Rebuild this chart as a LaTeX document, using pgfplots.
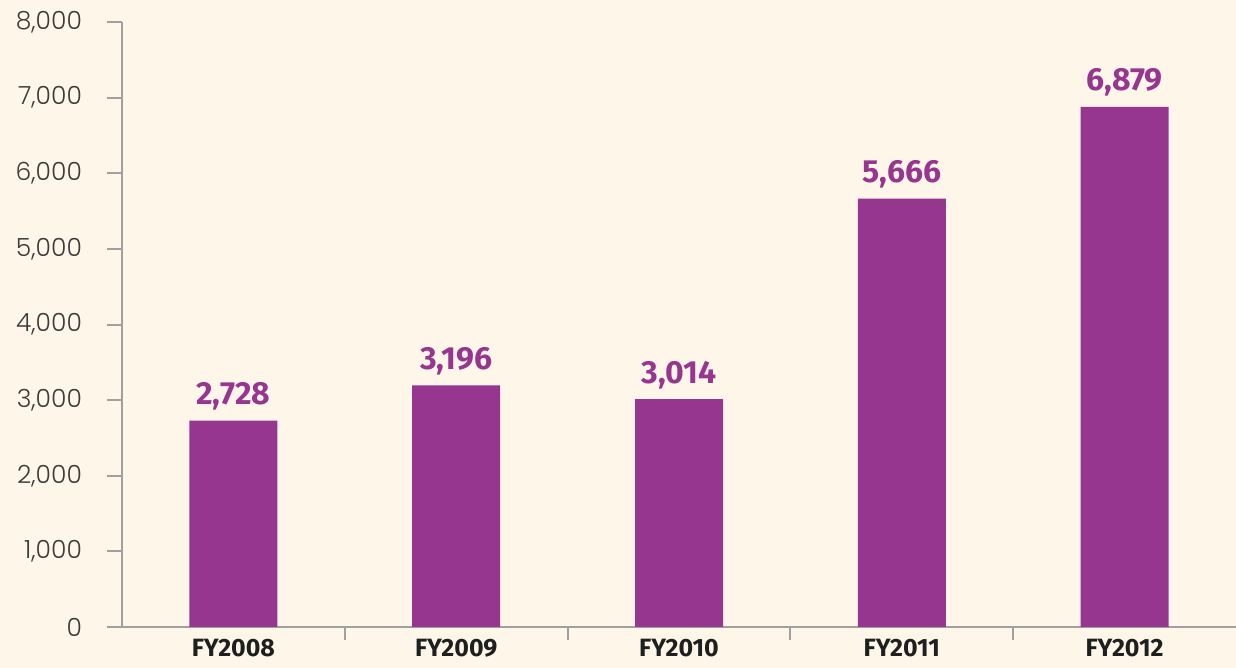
\documentclass[border=0pt]{standalone}
\usepackage{pgfplots}
\pgfplotsset{compat=1.18}
\usepackage{fontspec}
\setmainfont{Fira Sans}
\newfontfamily\tickfont{Poppins Light}
\definecolor{bg}{HTML}{FEF7E9}
\definecolor{barc}{HTML}{97368F}
\definecolor{axc}{HTML}{A0A0A0}
\definecolor{tk}{HTML}{3C3C3C}
\begin{document}
\begin{tikzpicture}
\fill[bg] (-61pt,-20.5pt) rectangle (557pt,313.5pt);
\useasboundingbox (-61pt,-20.5pt) rectangle (557pt,313.5pt);
\begin{axis}[
  at={(0,0)}, anchor=south west,
  scale only axis, width=557pt, height=302.5pt,
  xmin=-0.5, xmax=4.5, ymin=0, ymax=8000,
  axis lines*=left,
  axis line style={draw=axc, line width=1pt},
  tick align=outside,
  ytick={0,1000,...,8000},
  scaled y ticks=false,
  yticklabel style={font=\tickfont\fontsize{12.5}{13}\selectfont, text=tk, xshift=-9pt, /pgf/number format/1000 sep={,}, /pgf/number format/assume math mode=true},
  ytick style={draw=axc, line width=1pt},
  major tick length=7.5pt,
  xtick={0,1,2,3,4},
  xticklabels={FY2008,FY2009,FY2010,FY2011,FY2012},
  xtick style={draw=none},
  xticklabel style={font=\bfseries\fontsize{12.5}{13}\selectfont, text=black!88, anchor=north, inner sep=0pt, yshift=1.5pt},
  extra x ticks={0.5,1.5,2.5,3.5},
  extra x tick labels={},
  extra x tick style={xtick style={draw=axc, line width=1pt}, major tick length=6.5pt},
]
\addplot[ybar, fill=barc, draw=none, bar width=44pt,
  nodes near coords,
  nodes near coords style={font=\bfseries\fontsize{16}{16}\selectfont, text=barc, anchor=base, yshift=8pt, /pgf/number format/1000 sep={,}, /pgf/number format/assume math mode=true}]
  coordinates {(0,2728) (1,3196) (2,3014) (3,5666) (4,6879)};
\end{axis}
\end{tikzpicture}
\end{document}
